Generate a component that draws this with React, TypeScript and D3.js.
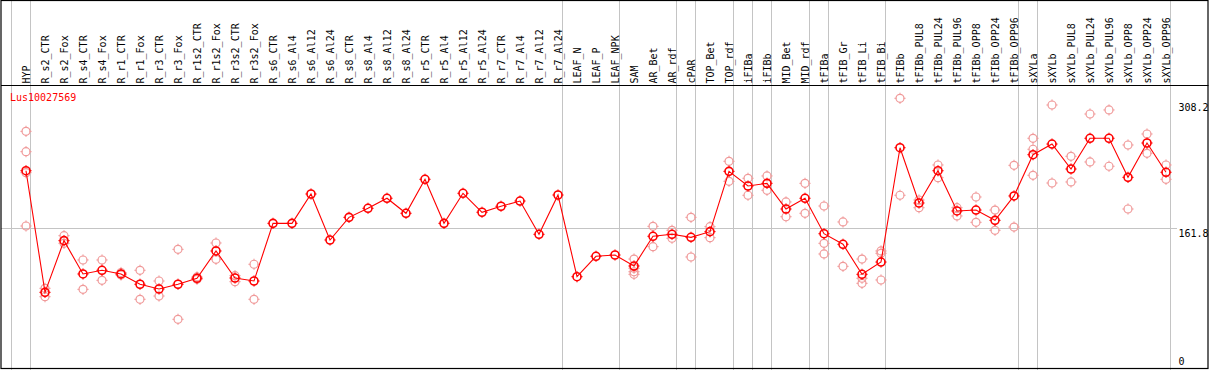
import React from "react";
import * as d3 from "d3";

const categories = [
  "HYP", "R_s2_CTR", "R_s2_Fox", "R_s4_CTR", "R_s4_Fox", "R_r1_CTR", "R_r1_Fox", "R_r3_CTR", "R_r3_Fox",
  "R_r1s2_CTR", "R_r1s2_Fox", "R_r3s2_CTR", "R_r3s2_Fox", "R_s6_CTR", "R_s6_Al4", "R_s6_Al12", "R_s6_Al24",
  "R_s8_CTR", "R_s8_Al4", "R_s8_Al12", "R_s8_Al24", "R_r5_CTR", "R_r5_Al4", "R_r5_Al12", "R_r5_Al24",
  "R_r7_CTR", "R_r7_Al4", "R_r7_Al12", "R_r7_Al24", "LEAF_N", "LEAF_P", "LEAF_NPK", "SAM", "AR_Bet", "AR_rdf",
  "cPAR", "TOP_Bet", "TOP_rdf", "iFIBa", "iFIBb", "MID_Bet", "MID_rdf", "tFIBa", "tFIB_Gr", "tFIB_Li", "tFIB_Bi",
  "tFIBb", "tFIBb_PUL8", "tFIBb_PUL24", "tFIBb_PUL96", "tFIBb_OPP8", "tFIBb_OPP24", "tFIBb_OPP96", "sXYLa",
  "sXYLb", "sXYLb_PUL8", "sXYLb_PUL24", "sXYLb_PUL96", "sXYLb_OPP8", "sXYLb_OPP24", "sXYLb_OPP96",
];

const meanValues = [
  228.7, 87.0, 147.2, 108.4, 112.7, 108.4, 96.4, 90.9, 96.4, 103.4, 135.2, 103.7, 100.2,
  167.4, 167.4, 201.6, 148.0, 174.4, 184.9, 196.6, 179.1, 218.7, 167.4, 202.4, 180.3,
  187.3, 193.4, 154.6, 200.4, 105.2, 129.0, 130.5, 117.7, 152.3, 154.6, 151.1, 157.7,
  228.0, 210.9, 214.0, 184.1, 196.6, 155.3, 143.0, 108.0, 122.3, 255.5, 191.1, 228.7,
  181.8, 182.9, 170.9, 199.3, 247.4, 259.8, 230.7, 266.5, 266.5, 221.0, 261.0, 226.9,
];

const replicateValues: number[][] = [
  [274.6, 250.9, 226.4, 164.3], [91.7, 81.9], [153.0, 144.1], [124.7, 90.5], [124.7, 101.0],
  [110.1, 107.2], [112.7, 78.9], [100.2, 82.7], [137.1, 55.6], [104.9, 102.2], [144.5, 125.5],
  [106.4, 99.4], [119.7, 78.9],
  [], [], [], [], [], [], [], [], [], [], [], [], [], [], [], [], [], [], [],
  [125.8, 115.0, 111.0, 108.0], [163.9, 140.2], [159.3, 150.0], [174.4, 128.2], [163.5, 150.7],
  [239.7, 216.4], [219.9, 200.1], [222.6, 205.9], [192.3, 175.1], [214.0, 179.1],
  [187.6, 144.1, 131.7], [169.0, 117.3], [125.8, 103.4, 97.5], [135.2, 132.5, 101.4],
  [313.1, 200.1], [194.6, 185.6], [235.4, 220.6], [185.6, 176.0], [198.1, 168.6], [182.9, 159.3],
  [235.0, 163.1], [266.5, 253.7, 223.4], [305.3, 214.4], [245.5, 215.6], [294.8, 238.9],
  [299.5, 233.9], [258.7, 184.1], [271.5, 249.0], [235.4, 218.7],
];

const groupEnds = [-1, 0, 28, 31, 34, 35, 37, 38, 39, 41, 42, 45, 52, 53, 60];
const axisTicks = [0, 161.8, 308.2];
const geneName = "Lus10027569";

const W = 1209;
const H = 370;
const RED = "#ff0000";
const PINK = "#f09a9a";
const GRID = "#c4c4c4";
const FONT = "'DejaVu Sans Mono', 'Liberation Mono', monospace";

function Marker({ cx, cy, color, sw }: { cx: number; cy: number; color: string; sw: number }) {
  const r = 4;
  const t = 1.6;
  return (
    <g stroke={color} strokeWidth={sw} fill="none">
      <circle cx={cx} cy={cy} r={r} />
      <line x1={cx} y1={cy - r - t} x2={cx} y2={cy - r + 0.5} strokeWidth={1} />
      <line x1={cx} y1={cy + r - 0.5} x2={cx} y2={cy + r + t} strokeWidth={1} />
      <line x1={cx - r - t} y1={cy} x2={cx - r + 0.5} y2={cy} strokeWidth={1} />
      <line x1={cx + r - 0.5} y1={cy} x2={cx + r + t} y2={cy} strokeWidth={1} />
    </g>
  );
}

export default function App() {
  const x = d3.scaleLinear().domain([0, categories.length - 1]).range([26, 1166]);
  const step = x(1) - x(0);
  const y = d3.scaleLinear().domain([0, 308.2]).range([367, 102.5]);
  const headerY = 85.5;
  const plotRight = 1170.5;

  const line = d3
    .line<number>()
    .x((_, i) => x(i))
    .y((d) => y(d));

  return (
    <svg width={W} height={H} style={{ position: "absolute", left: 0, top: 0, background: "#fff" }}>
      <rect x={0} y={0} width={W} height={H} fill="#fff" />
      {/* separators */}
      {groupEnds.map((g) => {
        const xv = Math.round(x(g) + 4.3) + 0.5;
        return <line key={"sep" + g} x1={xv} x2={xv} y1={0} y2={H} stroke={GRID} strokeWidth={1} />;
      })}
      {/* horizontal grid at middle tick */}
      <line x1={1} x2={1177} y1={Math.round(y(161.8)) + 0.5} y2={Math.round(y(161.8)) + 0.5} stroke={GRID} strokeWidth={1} />
      {/* frame */}
      <rect x={1} y={0.5} width={1207} height={368} fill="none" stroke="#000" strokeWidth={1.2} />
      <line x1={1} x2={1208.5} y1={headerY} y2={headerY} stroke="#000" strokeWidth={1.2} />
      {/* category labels */}
      {categories.map((c, i) => (
        <text
          key={c}
          transform={`translate(${x(i) + 3.6},83.5) rotate(-90)`}
          fontFamily={FONT}
          fontSize={10}
          fill="#000"
        >
          {c}
        </text>
      ))}
      {/* gene name */}
      <text x={10} y={101} fontFamily={FONT} fontSize={10} fill={RED}>
        {geneName}
      </text>
      {/* right axis labels */}
      {axisTicks.map((t) => (
        <text
          key={t}
          x={1178.5}
          y={t === 0 ? 365 : y(t) + 8.5}
          fontFamily={FONT}
          fontSize={10}
          fill="#000"
        >
          {t === 0 ? "0" : t.toFixed(1)}
        </text>
      ))}
      {/* replicates */}
      {replicateValues.map((reps, i) =>
        reps.map((v, j) => <Marker key={`r${i}-${j}`} cx={x(i)} cy={y(v)} color={PINK} sw={1.2} />)
      )}
      {/* mean line */}
      <path d={line(meanValues) || ""} fill="none" stroke={RED} strokeWidth={1.1} />
      {meanValues.map((v, i) => (
        <Marker key={`m${i}`} cx={x(i)} cy={y(v)} color={RED} sw={1.6} />
      ))}
    </svg>
  );
}
